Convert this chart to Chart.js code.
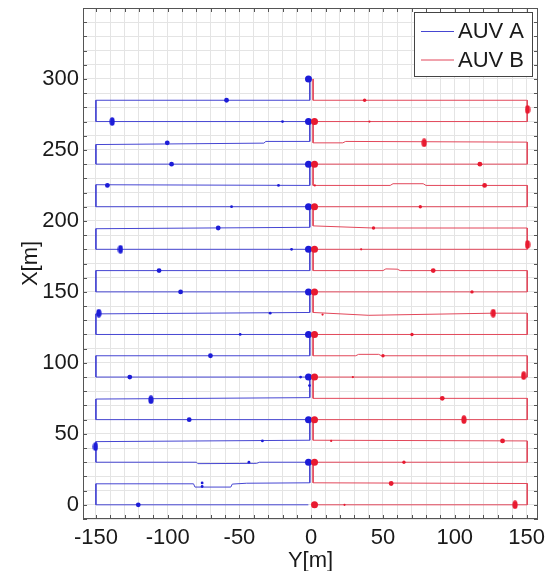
<!DOCTYPE html>
<html>
<head>
<meta charset="utf-8">
<script src="https://cdn.jsdelivr.net/npm/chart.js@4.4.1/dist/chart.umd.min.js"></script>
<style>
  body { margin: 0; background: #fff; }
  #trackChart { display: block; }
</style>
</head>
<body>
<canvas id="trackChart" width="547" height="571"></canvas>
<script>
// Track of AUV A (Y = horizontal axis, X = vertical axis, metres)
const trackA_Y = [-1, -1, -150, -150, -1, -1, -31.6, -33, -150, -150, -1, -1, -150, -150, -1, -1, -150,
    -150, -1, -1, -150, -150, -1, -1, -150, -150, -1, -1, -150, -150, -1, -1, -150, -150, -1, -1, -150,
    -150, -80, -79, -38, -36, -1, -1, -45, -55, -56, -81, -82, -150, -150, -2];
const trackA_X = [300, 285, 285, 270, 270, 256, 256, 254.8, 253.8, 240, 240, 225, 225.5, 210, 210, 195.5, 194.5,
    180, 180, 165, 165, 150, 150, 135.5, 134.5, 120, 120, 105, 105, 90, 90, 75.5, 74.5, 60, 60, 45.5, 44.5,
    30, 30, 29, 29.2, 30, 30, 15.5, 15.2, 14.6, 12.5, 12.5, 14.8, 14.8, 0, 0];

// Track of AUV B
const trackB_Y = [1.3, 1.3, 150.5, 150.5, 1.3, 1.3, 22, 24, 150.5, 150.5, 1.3, 1.3, 55, 57, 78, 80, 150.5,
    150.5, 1.3, 1.3, 43, 150.5, 150.5, 1.3, 1.3, 50, 52, 60, 62, 150.5, 150.5, 1.3, 1.3, 40, 127, 150.5,
    150.5, 1.3, 1.3, 31, 33, 47, 49, 150.5, 150.5, 1.3, 1.3, 150.5, 150.5, 1.3, 1.3, 150.5, 150.5, 1.3,
    1.3, 150.5, 150.5, 2.3];
const trackB_X = [300, 285, 285, 270, 270, 255, 255, 256, 255.5, 240, 240, 225, 225, 226.2, 226.2, 225, 225,
    210, 210, 196.5, 195, 195, 180, 180, 165, 165, 166.2, 166, 165, 165, 150, 150, 135.5, 133.5, 135, 135,
    120, 120, 105, 105, 106, 106, 105, 105, 90, 90, 75, 75, 60, 60, 45.5, 45, 30, 30,
    15.5, 15, 0, 0];

// Turn points on the centre line
const wpA_Y = [-1.9, -1.9, -1.9, -1.9, -1.9, -1.9, -1.9, -1.9, -1.9, -1.9];
const wpA_X = [300, 270, 240, 210, 180, 150, 120, 90, 60, 30];
const wpB_Y = [2.3, 2.3, 2.3, 2.3, 2.3, 2.3, 2.3, 2.3, 2.3, 2.3];
const wpB_X = [270, 240, 210, 180, 150, 120, 90, 60, 30, 0];

// Marks along the lanes, AUV A
const blobA_Y = [-138.7, -132.9, -148, -111.7, -150.3];
const blobA_X = [270, 180, 135, 74, 41];
const midA_Y = [-59, -100.3, -97.3, -142, -64.8, -106, -91, -70.2, -126.4, -85, -120.5];
const midA_X = [285, 255, 240, 225, 195, 165, 150, 105, 90, 60, 0];
const smallA_Y = [-20, -22.8, -55.5, -13.7, -28.6, -49.5, -7.4, -1.2, -34, -43.4, -76, -76];
const smallA_X = [270, 225, 210, 180, 135, 120, 90, 84, 45, 30, 15.4, 12.9];

// Marks along the lanes, AUV B
const blobB_Y = [150.7, 78.7, 150.7, 126.8, 148, 106.4, 142];
const blobB_X = [278.5, 255, 183.4, 135, 91, 60, 0];
const midB_Y = [117.5, 120.8, 85, 91.3, 133.3, 55.7];
const midB_X = [240, 225, 165, 75, 45, 15];
const smallB_Y = [37.2, 76, 43.4, 112, 70.2, 50, 64.6];
const smallB_X = [285, 210, 195, 150, 120, 105, 30];
const tinyB_Y = [40.6, 2.5, 34.8, 7.9, 29, 13.9, 23.2];
const tinyB_X = [270, 225, 180, 134, 90, 45, 0];

const legendLabels = ['AUV A', 'AUV B'];

const blueLine = '#4646d2', redLine = '#e2475a';
const blueDot = '#1c1cd8', redDot = '#e81a30';
const fontFamily = '"Liberation Sans", Arial, sans-serif';

function toPoints(ys, xs) {
    return ys.map((y, i) => ({ x: y, y: xs[i] }));
}

// little vertical ellipse used as point style for the elongated marks
function ellipseDot(color) {
    const c = document.createElement('canvas');
    c.width = 6; c.height = 9;
    const g = c.getContext('2d');
    g.fillStyle = color;
    g.beginPath();
    g.ellipse(3, 4.5, 2.6, 4.3, 0, 0, Math.PI * 2);
    g.fill();
    return c;
}

function trackSet(ys, xs, color) {
    return {
        data: toPoints(ys, xs), showLine: true, borderColor: color, borderWidth: 1,
        pointRadius: 0, fill: false, tension: 0, order: 5
    };
}

function dotSet(ys, xs, color, r, style) {
    return {
        data: toPoints(ys, xs), showLine: false, pointStyle: style || 'circle',
        pointRadius: r, backgroundColor: color, borderColor: color, borderWidth: 0, order: 1
    };
}

// Frame, inward tick marks and the legend box (drawn like the original figure)
const framePlugin = {
    id: 'frame',
    afterDatasetsDraw(chart) {
        const { ctx, chartArea: a, scales } = chart;
        ctx.save();
        ctx.strokeStyle = '#555';
        ctx.lineWidth = 1;
        ctx.strokeRect(a.left + 0.5, a.top + 0.5, a.right - a.left - 1, a.bottom - a.top - 1);

        ctx.beginPath();
        const tl = 4;
        for (let v = Math.ceil(scales.x.min / 10) * 10; v <= scales.x.max; v += 10) {
            const px = Math.round(scales.x.getPixelForValue(v)) + 0.5;
            ctx.moveTo(px, a.bottom); ctx.lineTo(px, a.bottom - tl);
            ctx.moveTo(px, a.top); ctx.lineTo(px, a.top + tl);
        }
        for (let v = Math.ceil(scales.y.min / 10) * 10; v <= scales.y.max; v += 10) {
            const py = Math.round(scales.y.getPixelForValue(v)) + 0.5;
            ctx.moveTo(a.left, py); ctx.lineTo(a.left + tl, py);
            ctx.moveTo(a.right, py); ctx.lineTo(a.right - tl, py);
        }
        ctx.stroke();

        // legend
        const bx = 414.5, by = 12.5, bw = 118, bh = 64;
        ctx.fillStyle = '#fff';
        ctx.fillRect(bx, by, bw, bh);
        ctx.strokeStyle = '#444';
        ctx.strokeRect(bx, by, bw, bh);
        const rows = [[legendLabels[0], blueLine, 31], [legendLabels[1], redLine, 59.5]];
        ctx.font = '22px ' + fontFamily;
        ctx.textBaseline = 'middle';
        ctx.textAlign = 'left';
        rows.forEach(([label, color, y]) => {
            ctx.strokeStyle = color;
            ctx.beginPath();
            ctx.moveTo(421, y + 0.5); ctx.lineTo(454, y + 0.5);
            ctx.stroke();
            ctx.fillStyle = '#1a1a1a';
            ctx.fillText(label, 458, y + 1);
        });
        ctx.restore();
    }
};

const tickFont = { family: fontFamily, size: 22 };

new Chart(document.getElementById('trackChart').getContext('2d'), {
    type: 'scatter',
    data: {
        datasets: [
            trackSet(trackA_Y, trackA_X, blueLine),
            trackSet(trackB_Y, trackB_X, redLine),
            dotSet(smallA_Y, smallA_X, blueDot, 1.4),
            dotSet(midA_Y, midA_X, blueDot, 2.4),
            dotSet(blobA_Y, blobA_X, blueDot, 3, ellipseDot(blueDot)),
            dotSet(tinyB_Y, tinyB_X, redDot, 1.1),
            dotSet(smallB_Y, smallB_X, redDot, 1.7),
            dotSet(midB_Y, midB_X, redDot, 2.4),
            dotSet(blobB_Y, blobB_X, redDot, 3, ellipseDot(redDot)),
            dotSet(wpA_Y, wpA_X, blueDot, 3.5),
            Object.assign(dotSet(wpB_Y, wpB_X, redDot, 3.5), { order: 0 })
        ]
    },
    options: {
        responsive: false,
        animation: false,
        layout: { padding: { top: 8, right: 9, left: 0, bottom: 0 } },
        plugins: { legend: { display: false }, tooltip: { enabled: false } },
        scales: {
            x: {
                type: 'linear', min: -159, max: 158,
                // fixed axis band, no extra room for the end labels
                afterFit: s => { s.height = 52; s.paddingLeft = 0; s.paddingRight = 0; },
                grid: { color: '#e4e4e4', drawTicks: false },
                border: { display: false },
                ticks: {
                    stepSize: 10, includeBounds: false, autoSkip: false, maxRotation: 0, padding: 6,
                    color: '#1a1a1a', font: tickFont,
                    callback: v => (v % 50 === 0 ? v : '')
                },
                title: { display: true, text: 'Y[m]', color: '#1a1a1a', font: tickFont, padding: { top: 0, bottom: -3 } }
            },
            y: {
                type: 'linear', min: -10, max: 350,
                afterFit: s => { s.width = 83; s.paddingTop = 0; s.paddingBottom = 0; },
                grid: { color: '#e4e4e4', drawTicks: false },
                border: { display: false },
                ticks: {
                    stepSize: 10, includeBounds: false, autoSkip: false, padding: 4,
                    color: '#1a1a1a', font: tickFont,
                    callback: v => (v % 50 === 0 && v <= 300 ? v : '')
                },
                title: { display: true, text: 'X[m]', color: '#1a1a1a', font: tickFont, padding: { top: 18, bottom: 0 } }
            }
        }
    },
    plugins: [framePlugin]
});
</script>
</body>
</html>
